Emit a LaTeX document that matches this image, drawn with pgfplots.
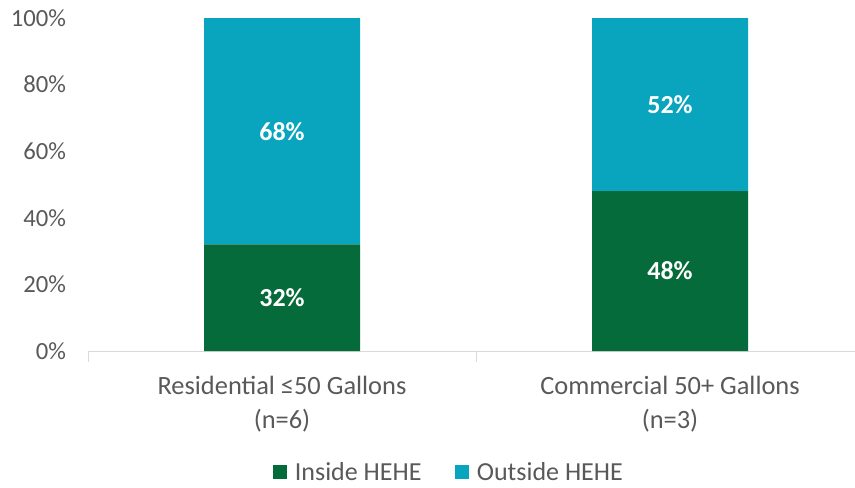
\documentclass[border=0pt]{standalone}
\usepackage{pgfplots}
\pgfplotsset{compat=1.18}
\usepackage{fontspec}
\setmainfont{Carlito}
\definecolor{cgreen}{RGB}{6,107,58}
\definecolor{cteal}{RGB}{9,164,190}
\definecolor{cgray}{RGB}{89,89,89}
\definecolor{cline}{RGB}{217,217,217}
\pgfplotsset{common/.style={
  at={(0,0)}, anchor=south west,
  scale only axis, width=582pt, height=249.75pt,
  xmin=-0.5, xmax=1.5, ymin=0, ymax=100}}
\begin{document}
\begin{tikzpicture}
\begin{axis}[common,
  ybar stacked, bar width=117pt,
  xtick={0,1},
  xticklabels={{Residential ≤50 Gallons\\(n=6)},{Commercial 50+ Gallons\\(n=3)}},
  minor xtick={-0.5,0.5,1.5},
  ytick={0,20,...,100},
  yticklabel={\pgfmathprintnumber{\tick}\%},
  /pgf/number format/assume math mode=true,
  axis x line*=bottom, axis y line*=left,
  y axis line style={draw=none},
  x axis line style={draw=cline, line width=0.75pt, -},
  major tick length=0pt,
  minor tick length=8pt, tick align=outside,
  minor x tick style={draw=cline, line width=0.75pt},
  ytick style={draw=none},
  ticklabel style={text=cgray},
  yticklabel style={font=\fontsize{18.5}{24}\selectfont, xshift=-13pt},
  xticklabel style={font=\fontsize{19.8}{25.5}\selectfont, align=center, yshift=-15pt},
  legend style={at={(0.4646,-0.364)}, anchor=center, draw=none, fill=none,
    inner sep=0pt, nodes={inner sep=1pt},
    legend columns=2, font=\fontsize{19.5}{22}\selectfont, text=cgray,
    /tikz/every odd column/.append style={column sep=5pt},
    /tikz/every even column/.append style={column sep=24pt},
    legend cell align=left},
  legend image code/.code={\fill[#1] (0pt,-5.2pt) rectangle (10.5pt,5.3pt);},
]
\addplot[fill=cgreen, draw=none] coordinates {(0,32) (1,48)};
\addplot[fill=cteal, draw=none] coordinates {(0,68) (1,52)};
\legend{Inside HEHE, Outside HEHE}
\end{axis}
\begin{axis}[common, hide axis,
  nodes near coords={\pgfplotspointmeta},
  point meta=explicit symbolic,
  nodes near coords style={font=\fontsize{19.5}{22}\selectfont\bfseries, text=white, anchor=center}]
\addplot[draw=none, mark=none] coordinates {(0,16) [32\%] (1,24) [48\%] (0,66) [68\%] (1,74) [52\%]};
\end{axis}
\pgfresetboundingbox
\path (-66pt,-102pt) rectangle (575.25pt,263.25pt);
\end{tikzpicture}
\end{document}
